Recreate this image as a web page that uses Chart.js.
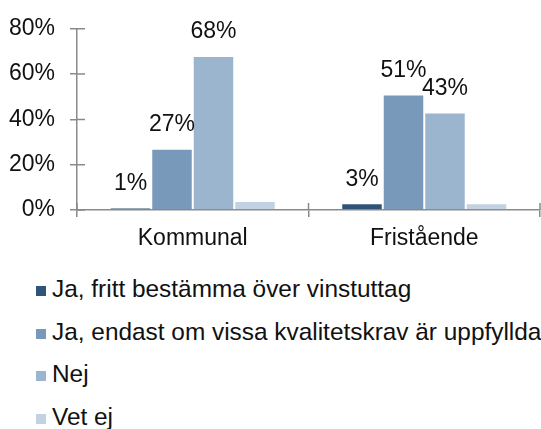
<!DOCTYPE html>
<html>
<head>
<meta charset="utf-8">
<script src="https://cdn.jsdelivr.net/npm/chart.js@4/dist/chart.umd.min.js"></script>
<style>
  html, body { margin: 0; padding: 0; background: #fff; overflow: hidden; }
  #wrap { width: 541px; height: 429px; }
  canvas { display: block; }
  #legend { margin-top: 8px; font-family: "Liberation Sans", Arial, sans-serif; font-size: 24.4px; color: #111; }
  .row { height: 42.5px; line-height: 42.5px; padding-left: 36px; white-space: nowrap; }
  .sw { display: inline-block; width: 10px; height: 10px; margin-right: 6px; vertical-align: 1px; }
</style>
</head>
<body>
<div id="wrap">
  <canvas id="chart" width="541" height="260"></canvas>
  <div id="legend"></div>
</div>
<script>
// ---- data ----
const categories = ['Kommunal', 'Fristående'];
const seriesNames = [
    'Ja, fritt bestämma över vinstuttag',
    'Ja, endast om vissa kvalitetskrav är uppfyllda',
    'Nej',
    'Vet ej'
];
const frittValues = [1, 3];
const kvalitetValues = [27, 51];
const nejValues = [68, 43];
const vetEjValues = [4, 3];
const yTicks = [0, 20, 40, 60, 80];

const colors = ['#2F5479', '#7899BA', '#9CB5CF', '#C3D2E3'];
const showLabels = [true, true, true, false];
const axisGray = '#8a8a8a';
const family = '"Liberation Sans", Arial, sans-serif';
const axisFont = { family: family, size: 23 };
const labelFont = { family: family, size: 23 };

// inner half of the tick marks (they cross the axis lines)
const crossTicks = {
    id: 'crossTicks',
    afterDraw(chart) {
        const { ctx, chartArea, scales } = chart;
        ctx.save();
        ctx.strokeStyle = axisGray;
        ctx.lineWidth = 1.5;
        ctx.beginPath();
        yTicks.forEach(v => {
            const y = scales.y.getPixelForValue(v);
            ctx.moveTo(chartArea.left, y);
            ctx.lineTo(chartArea.left + 8, y);
        });
        const w = (scales.x.right - scales.x.left) / categories.length;
        for (let i = 0; i <= categories.length; i++) {
            const x = scales.x.left + i * w;
            ctx.moveTo(x, chartArea.bottom);
            ctx.lineTo(x, chartArea.bottom - 7);
        }
        ctx.stroke();
        ctx.restore();
    }
};

// percent labels over the bars
const barLabels = {
    id: 'barLabels',
    afterDatasetsDraw(chart) {
        const ctx = chart.ctx;
        ctx.save();
        ctx.font = `${labelFont.size}px ${labelFont.family}`;
        ctx.fillStyle = '#111';
        ctx.textAlign = 'center';
        ctx.textBaseline = 'middle';
        chart.data.datasets.forEach((ds, i) => {
            if (!showLabels[i]) return;
            chart.getDatasetMeta(i).data.forEach((bar, j) => {
                ctx.fillText(ds.data[j] + '%', bar.x, bar.y - 24);
            });
        });
        ctx.restore();
    }
};

const seriesValues = [frittValues, kvalitetValues, nejValues, vetEjValues];

new Chart(document.getElementById('chart'), {
    type: 'bar',
    data: {
        labels: categories,
        datasets: seriesNames.map((name, i) => ({
            label: name,
            data: seriesValues[i],
            backgroundColor: colors[i],
            borderColor: '#ffffff',
            borderWidth: 1,
            borderSkipped: 'bottom',
            categoryPercentage: 0.717,
            barPercentage: 1
        }))
    },
    options: {
        responsive: false,
        animation: false,
        layout: { padding: { top: 25, left: 0, right: 1, bottom: 0 } },
        plugins: { legend: { display: false }, tooltip: { enabled: false } },
        scales: {
            x: {
                afterFit: axis => { axis.height = 50; },
                border: { color: axisGray, width: 1.5 },
                grid: { drawOnChartArea: false, tickLength: 7, color: axisGray, lineWidth: 1.5 },
                ticks: { font: axisFont, color: '#111', padding: 8 }
            },
            y: {
                min: 0,
                max: 80,
                afterBuildTicks: axis => { axis.ticks = yTicks.map(v => ({ value: v })); },
                afterFit: axis => { axis.width = 77; },
                border: { color: axisGray, width: 1.5 },
                grid: { drawOnChartArea: false, tickLength: 7, color: axisGray, lineWidth: 1.5 },
                ticks: { font: axisFont, color: '#111', padding: 15, callback: v => v + '%' }
            }
        }
    },
    plugins: [crossTicks, barLabels]
});

// legend, one entry per line
const legend = document.getElementById('legend');
seriesNames.forEach((name, i) => {
    const row = document.createElement('div');
    row.className = 'row';
    const sw = document.createElement('span');
    sw.className = 'sw';
    sw.style.background = colors[i];
    row.appendChild(sw);
    row.appendChild(document.createTextNode(name));
    legend.appendChild(row);
});
</script>
</body>
</html>
